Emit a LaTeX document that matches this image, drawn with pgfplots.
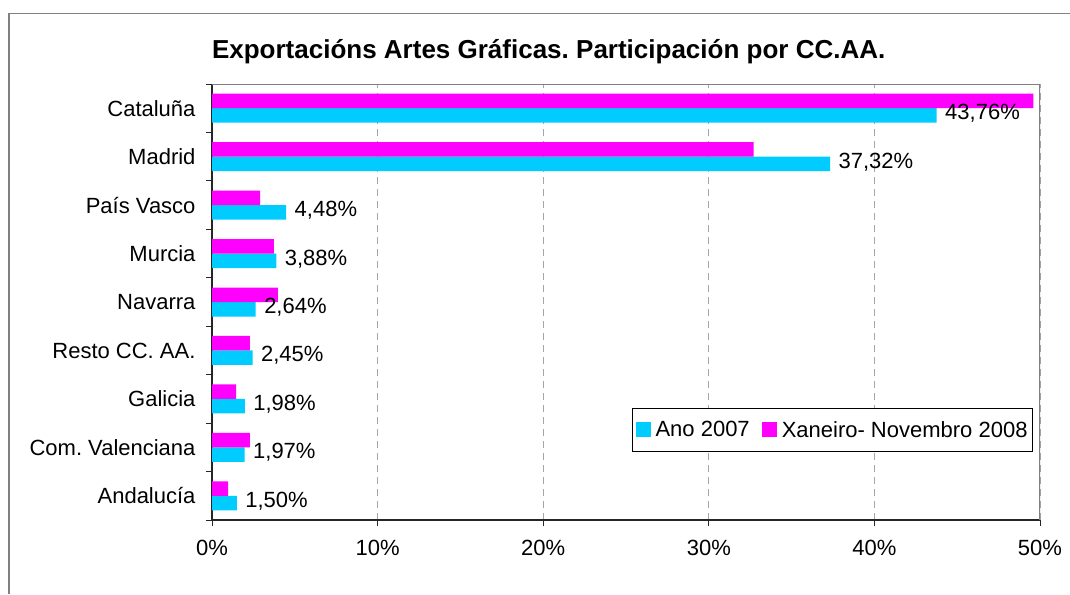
\documentclass[border=0pt]{standalone}
\usepackage{fontspec}
\setmainfont{Liberation Sans}
\usepackage{pgfplots}
\pgfplotsset{compat=1.18}
\definecolor{ano}{HTML}{00CCFF}
\definecolor{xan}{HTML}{FF00FF}
\definecolor{framegray}{HTML}{808080}
\frenchspacing
\begin{document}
\begin{tikzpicture}
\useasboundingbox (0,0) rectangle (1070pt,-594pt);
% outer chart frame (cropped on right and bottom)
\draw[framegray, line width=1.5pt] (9pt,-594pt) -- (9pt,-13.5pt) -- (1070pt,-13.5pt);
\node[anchor=base, font=\bfseries\fontsize{26}{31}\selectfont] at (548.7pt,-58.5pt)
  {Exportacións Artes Gráficas. Participación por CC.AA.};
\begin{axis}[
  at={(212pt,-520pt)}, anchor=south west,
  scale only axis, width=828pt, height=436pt,
  xbar, bar width=14.5pt,
  xmin=0, xmax=50, ymin=-0.5, ymax=8.5,
  axis x line*=bottom, axis y line*=left,
  axis line style={line width=1.2pt, black!85},
  xtick={0,10,...,50},
  xticklabel={\pgfmathprintnumber[assume math mode=true]{\tick}\%},
  ytick={-0.5,0.5,...,8.5},
  y tick label as interval,
  yticklabels={Andalucía, Com. Valenciana, Galicia, Resto CC. AA., Navarra, Murcia, País Vasco, Madrid, Cataluña},
  tick align=outside, major tick length=6pt,
  tick style={line width=1pt, black!85},
  tick label style={font=\fontsize{22}{26}\selectfont},
  xticklabel style={yshift=-11pt},
  yticklabel style={xshift=-7pt},
  xmajorgrids, major x grid style={dash pattern=on 7pt off 5pt, framegray!70, line width=1pt},
  legend style={at={(0.9915,0.156)}, anchor=south east, legend columns=2,
    draw=black, line width=0.8pt, font=\fontsize{22}{26}\selectfont,
    inner xsep=3pt, inner ysep=11pt,
    /tikz/every odd column/.append style={column sep=3pt},
    /tikz/every even column/.append style={column sep=10pt}},
  legend cell align=left,
  legend image code/.code={\fill[#1] (0pt,-7.5pt) rectangle (15pt,7.5pt);},
]
\addplot[fill=ano, draw=none, bar shift=-7.25pt, point meta=x,
  nodes near coords={\pgfmathprintnumber[fixed,fixed zerofill,precision=2,use comma,assume math mode=true]{\pgfplotspointmeta}\%},
  nodes near coords style={font=\fontsize{22}{26}\selectfont, text=black, xshift=5pt, yshift=2pt}]
  coordinates {(1.50,0) (1.97,1) (1.98,2) (2.45,3) (2.64,4) (3.88,5) (4.48,6) (37.32,7) (43.76,8)};
\addplot[fill=xan, draw=none, bar shift=7.25pt]
  coordinates {(0.97,0) (2.29,1) (1.45,2) (2.29,3) (3.98,4) (3.74,5) (2.90,6) (32.7,7) (49.6,8)};
\legend{Ano 2007, Xaneiro- Novembro 2008}
\draw[framegray, line width=1.2pt] (rel axis cs:0,1) -- (rel axis cs:1,1) -- (rel axis cs:1,0);
\end{axis}
\end{tikzpicture}
\end{document}
